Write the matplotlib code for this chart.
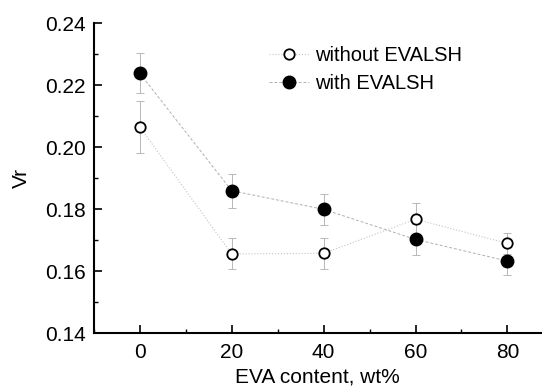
import numpy as np
import matplotlib
matplotlib.use("Agg")
import matplotlib.pyplot as plt
from matplotlib.ticker import MultipleLocator

plt.rcParams["font.family"] = ["Liberation Sans", "DejaVu Sans"]

# EVA content (wt%)
eva = [0, 20, 40, 60, 80]

# Vr without EVALSH
vr_without = [0.2065, 0.1655, 0.1657, 0.1767, 0.1689]
err_without = [0.0083, 0.0050, 0.0050, 0.0052, 0.0035]

# Vr with EVALSH
vr_with = [0.2238, 0.1859, 0.1799, 0.1702, 0.1632]
err_with = [0.0064, 0.0055, 0.0050, 0.0050, 0.0046]

fig = plt.figure(figsize=(5.42, 3.92), dpi=100)
ax = fig.add_axes([0.173, 0.1505, 0.826, 0.7908])

# faint error bars
ax.errorbar(eva, vr_without, yerr=err_without, fmt="none",
            ecolor="#b8b8b8", elinewidth=0.7, capsize=3, capthick=0.7)
ax.errorbar(eva, vr_with, yerr=err_with, fmt="none",
            ecolor="#b8b8b8", elinewidth=0.7, capsize=3, capthick=0.7)

ax.plot(eva, vr_without, marker="o", color="#c4c4c4", ls=":", lw=0.8,
        mfc="white", mec="black", ms=7.5, mew=1.3, label="without EVALSH")
ax.plot(eva, vr_with, marker="o", color="#b0b0b0", ls=(0, (3, 2)), lw=0.7,
        mfc="black", mec="black", ms=9, mew=1.0, label="with EVALSH")

ax.set_xlim(-10, 87.4)
ax.set_ylim(0.14, 0.24)
ax.set_xticks([0, 20, 40, 60, 80])
ax.set_yticks([0.14, 0.16, 0.18, 0.20, 0.22, 0.24])
ax.set_yticklabels(["0.14", "0.16", "0.18", "0.20", "0.22", "0.24"])
ax.xaxis.set_minor_locator(MultipleLocator(10))
ax.yaxis.set_minor_locator(MultipleLocator(0.01))
ax.tick_params(axis="both", which="major", direction="in", length=6, width=1.2,
               labelsize=15)
ax.tick_params(axis="y", which="major", pad=6)
ax.tick_params(axis="x", which="major", pad=7)
ax.tick_params(axis="both", which="minor", direction="in", length=3, width=1.0)
ax.tick_params(axis="x", top=False)
ax.tick_params(axis="y", right=False)

for side in ["top", "right"]:
    ax.spines[side].set_visible(False)
for side in ["left", "bottom"]:
    ax.spines[side].set_linewidth(1.5)

ax.set_xlabel("EVA content, wt%", fontsize=15, labelpad=4)
ax.set_ylabel("Vr", fontsize=15, labelpad=10)

ax.legend(loc="upper left", bbox_to_anchor=(0.35, 0.985),
          frameon=False, fontsize=14.5, handlelength=2.0, handletextpad=0.3,
          labelspacing=0.45)

fig.savefig("out.png", dpi=100)
